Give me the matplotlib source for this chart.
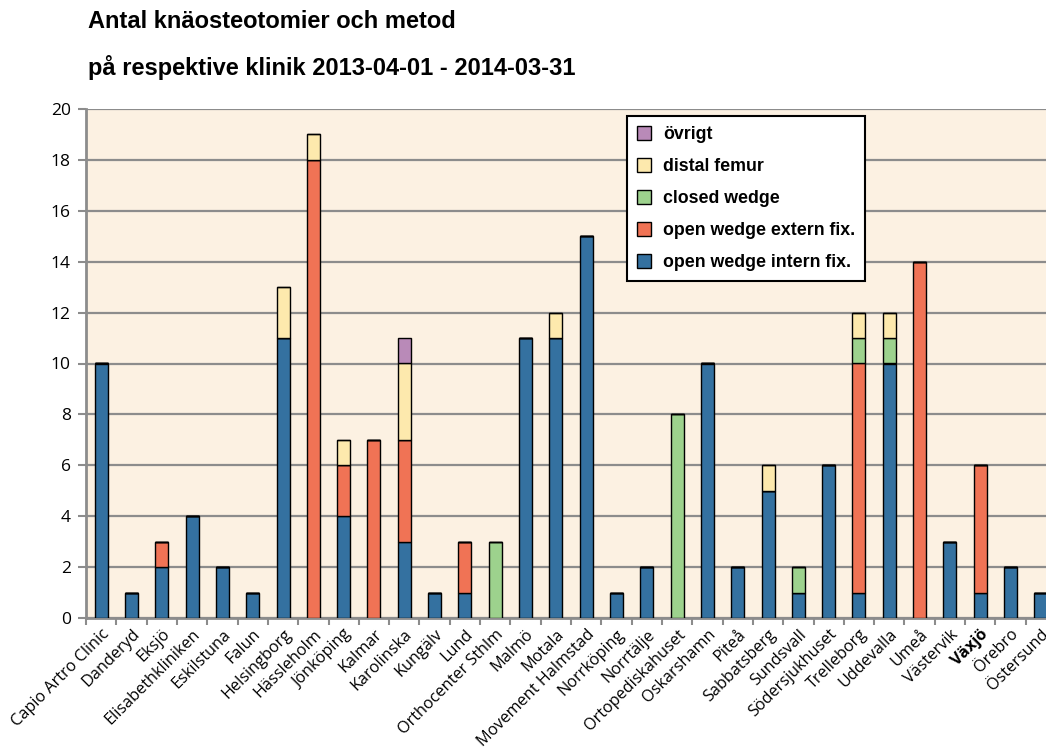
import matplotlib.pyplot as plt
import numpy as np

clinics = ['Capio Artro Clinic', 'Danderyd', 'Eksjö', 'Elisabethkliniken', 'Eskilstuna',
           'Falun', 'Helsingborg', 'Hässleholm', 'Jönköping', 'Kalmar', 'Karolinska',
           'Kungälv', 'Lund', 'Orthocenter Sthlm', 'Malmö', 'Motala', 'Movement Halmstad',
           'Norrköping', 'Norrtälje', 'Ortopediskahuset', 'Oskarshamn', 'Piteå',
           'Sabbatsberg', 'Sundsvall', 'Södersjukhuset', 'Trelleborg', 'Uddevalla',
           'Umeå', 'Västervik', 'Växjö', 'Örebro', 'Östersund']

intern = [10, 1, 2, 4, 2, 1, 11, 0, 4, 0, 3, 1, 1, 0, 11, 11, 15, 1, 2, 0, 10, 2, 5, 1, 6, 1, 10, 0, 3, 1, 2, 1]
extern = [0, 0, 1, 0, 0, 0, 0, 18, 2, 7, 4, 0, 2, 0, 0, 0, 0, 0, 0, 0, 0, 0, 0, 0, 0, 9, 0, 14, 0, 5, 0, 0]
closed = [0, 0, 0, 0, 0, 0, 0, 0, 0, 0, 0, 0, 0, 3, 0, 0, 0, 0, 0, 8, 0, 0, 0, 1, 0, 1, 1, 0, 0, 0, 0, 0]
distal = [0, 0, 0, 0, 0, 0, 2, 1, 1, 0, 3, 0, 0, 0, 0, 1, 0, 0, 0, 0, 0, 0, 1, 0, 0, 1, 1, 0, 0, 0, 0, 0]
ovrigt = [0, 0, 0, 0, 0, 0, 0, 0, 0, 0, 1, 0, 0, 0, 0, 0, 0, 0, 0, 0, 0, 0, 0, 0, 0, 0, 0, 0, 0, 0, 0, 0]

series = [('open wedge intern fix.', intern, '#3471a0'),
          ('open wedge extern fix.', extern, '#f07355'),
          ('closed wedge', closed, '#9dd28d'),
          ('distal femur', distal, '#fde9ad'),
          ('övrigt', ovrigt, '#b98ab8')]

fig = plt.figure(figsize=(10.46, 7.47), dpi=100)
ax = fig.add_axes([86 / 1046, 1 - 618 / 747, (1056 - 86) / 1046, (618 - 109) / 747])
ax.set_facecolor('#fcf1e2')

x = np.arange(len(clinics))
bottom = np.zeros(len(clinics))
handles = []
for name, vals, col in series:
    vals = np.array(vals, dtype=float)
    b = ax.bar(x, vals, 0.43, bottom=bottom, color=col, edgecolor='black', linewidth=1.0,
               label=name, zorder=3)
    handles.append(b)
    bottom += vals

ax.set_xlim(-0.5, len(clinics) - 0.5)
ax.set_ylim(0, 20)
ax.set_yticks(range(0, 21, 2))
ax.yaxis.grid(True, color='#8c8c8c', linewidth=1.6, zorder=0)
ax.set_axisbelow(True)

for s in ['top', 'right']:
    ax.spines[s].set_visible(False)
ax.spines['left'].set_color('#8c8c8c')
ax.spines['left'].set_linewidth(2)
ax.spines['bottom'].set_color('#8c8c8c')
ax.spines['bottom'].set_linewidth(2)

ax.set_xticks(x)
ax.set_xticklabels(clinics, rotation=45, ha='right', rotation_mode='anchor',
                   fontsize=11.7, family='Open Sans')
ax.tick_params(axis='x', length=0, pad=6)
ax.set_xticks(np.arange(-0.5, len(clinics), 1), minor=True)
ax.tick_params(axis='x', which='minor', length=5, width=1.5, color='#8c8c8c')
ax.tick_params(axis='y', length=6, width=1.5, color='#8c8c8c', labelsize=12.5, pad=5)
for lab in ax.get_yticklabels():
    lab.set_family('Open Sans')
for lab in ax.get_xticklabels():
    if lab.get_text() == 'Växjö':
        lab.set_fontweight('bold')

leg = ax.legend(handles[::-1], [s[0] for s in series][::-1], loc='upper left',
                bbox_to_anchor=(0.558, 0.986), borderaxespad=0, frameon=True, fancybox=False,
                edgecolor='black', framealpha=1, handlelength=0.8, handleheight=0.8,
                handletextpad=0.67, labelspacing=0.85, borderpad=0.55,
                prop={'family': 'Liberation Sans', 'weight': 'bold', 'size': 12.8})
leg.get_frame().set_linewidth(1.5)

fig.text(88 / 1046, 1 - 22 / 747, 'Antal knäosteotomier och metod', fontsize=17,
         fontweight='bold', family='Liberation Sans', va='center')
fig.text(88 / 1046, 1 - 67 / 747, 'på respektive klinik 2013-04-01 - 2014-03-31', fontsize=17,
         fontweight='bold', family='Liberation Sans', va='center')

fig.savefig('out.png', dpi=100)
